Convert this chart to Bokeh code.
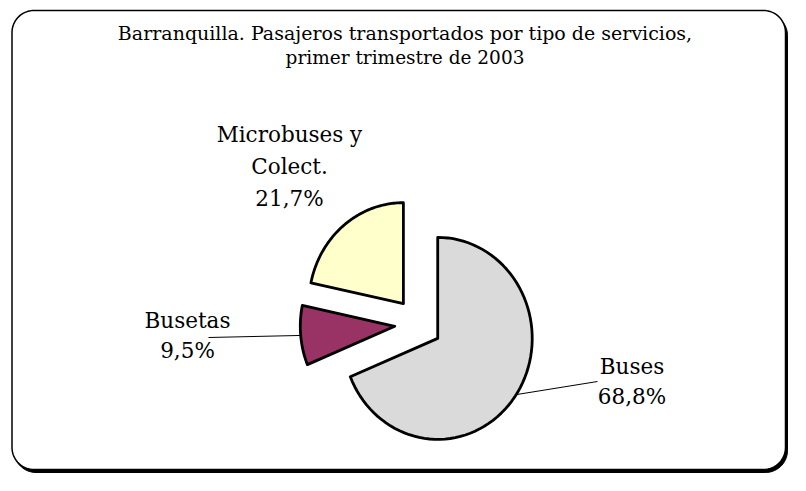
import numpy as np
from bokeh.plotting import figure
from bokeh.models import Range1d
from bokeh.core.properties import value
from bokeh.embed import file_html
from bokeh.resources import INLINE

# ---- data ----
title_lines = ["Barranquilla. Pasajeros transportados por tipo de servicios,",
               "primer trimestre de 2003"]
categories = ["Buses", "Busetas", "Microbuses y\nColect."]
values = [68.8, 9.5, 21.7]
colors = ["#dadada", "#993366", "#ffffcc"]

FONT = value("DejaVu Serif")

p = figure(width=790, height=475, x_range=Range1d(0, 790), y_range=Range1d(475, 0),
           output_backend="svg", toolbar_location=None, min_border=0)
p.xaxis.visible = False
p.yaxis.visible = False
p.xgrid.visible = False
p.ygrid.visible = False
p.outline_line_color = None
p.background_fill_color = "white"
p.border_fill_color = "white"

# ---- rounded frame with shadow ----
def rounded_rect(x0, y0, x1, y1, r, n=16):
    xs, ys = [], []
    corners = [((x0 + r, y0 + r), 180, 270), ((x1 - r, y0 + r), 270, 360),
               ((x1 - r, y1 - r), 0, 90), ((x0 + r, y1 - r), 90, 180)]
    for (cx, cy), a0, a1 in corners:
        a = np.radians(np.linspace(a0, a1, n))
        xs.extend(cx + r * np.cos(a))
        ys.extend(cy + r * np.sin(a))
    return xs, ys

fx, fy = rounded_rect(11.5, 10, 785, 469, 22)
p.patch([x + 2 for x in fx], [y + 3 for y in fy], fill_color="black", line_color="black")
p.patch(fx, fy, fill_color="white", line_color="black", line_width=1.5)

# ---- exploded pie (slightly elliptical as in the source image) ----
cx, cy = 417.7, 323.4
rx, ry = 94.5, 101.0
ex, ey = 23.5, 26.0
total = sum(values)
start = 90.0
xs, ys, mids, verts = [], [], [], []
for v in values:
    sweep = v / total * 360.0
    mid = start - sweep / 2
    m = np.radians(mid)
    vx, vy = cx + ex * np.cos(m), cy - ey * np.sin(m)
    a = np.radians(np.linspace(start, start - sweep, 80))
    px = [vx] + list(vx + rx * np.cos(a)) + [vx]
    py = [vy] + list(vy - ry * np.sin(a)) + [vy]
    xs.append(px)
    ys.append(py)
    mids.append(m)
    verts.append((vx, vy))
    start -= sweep

p.patches(xs, ys, fill_color=colors, line_color="black", line_width=2.8, line_join="round")

# ---- leader lines: from slice arc mid-point to label ----
label_anchor = {0: (597, 381), 1: (208, 337)}
lx0, ly0, lx1, ly1 = [], [], [], []
for i, (ax, ay) in label_anchor.items():
    vx, vy = verts[i]
    lx0.append(vx + rx * np.cos(mids[i]))
    ly0.append(vy - ry * np.sin(mids[i]))
    lx1.append(ax)
    ly1.append(ay)
p.segment(lx0, ly0, lx1, ly1, line_color="black", line_width=1)

# ---- labels ----
def pct(v):
    return f"{v:.1f}".replace(".", ",") + "%"

label_pos = [(631.5, 366, 29.5), (187, 320, 29.5), (289, 134, 32)]
tx, ty, tt = [], [], []
for cat, v, (x, y0, dy) in zip(categories, values, label_pos):
    lines = cat.split("\n") + [pct(v)]
    for k, ln in enumerate(lines):
        tx.append(x)
        ty.append(y0 + k * dy)
        tt.append(ln)
p.text(x=tx, y=ty, text=tt, text_font=FONT, text_font_size="21.5px",
       text_align="center", text_baseline="alphabetic", text_color="black")

# ---- title ----
p.text(x=[404.5, 404.5], y=[32, 57], text=title_lines, text_font=FONT,
       text_font_size=["19px", "18.5px"], text_align="center", text_baseline="alphabetic",
       text_color="black")

open("out.html", "w").write(file_html(p, INLINE))
